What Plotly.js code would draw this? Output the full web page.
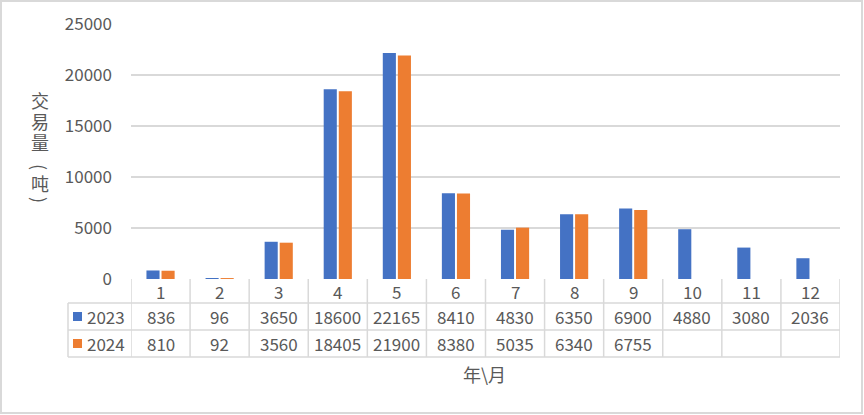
<!DOCTYPE html>
<html><head><meta charset="utf-8">
<script src="https://cdn.plot.ly/plotly-3.0.1.min.js"></script>
<style>html,body{margin:0;padding:0;background:#fff;}#chart{width:864px;height:415px;}</style>
</head><body><div id="chart"></div>
<script>
const months = ['1','2','3','4','5','6','7','8','9','10','11','12'];
const seriesNames = ['2023','2024'];
const values2023 = [836,96,3650,18600,22165,8410,4830,6350,6900,4880,3080,2036];
const values2024 = [810,92,3560,18405,21900,8380,5035,6340,6755,null,null,null];
const yTicks = [0,5000,10000,15000,20000,25000];
const yTitle = '交易量（吨）';
const xTitle = '年\\月';
const colors = ['#4472C4','#ED7D31'];

const W=864,H=415,L=131,R=24,T=24,B=136;
const pw=W-L-R, ph=H-T-B;
const fx=px=>(px-L)/pw, fy=py=>(H-B-py)/ph;
const txt='#595959', grid='#d9d9d9';
const FONT='"Noto Sans CJK SC", "Liberation Sans", sans-serif';

const traces=[
 {type:'bar',x:months,y:values2023,name:seriesNames[0],marker:{color:colors[0]},hoverinfo:'none'},
 {type:'bar',x:months,y:values2024,name:seriesNames[1],marker:{color:colors[1]},hoverinfo:'none'}
];

const shapes=[];
const ann=[];
const lw=1.5;
shapes.push({type:'rect',xref:'paper',yref:'paper',x0:fx(1),x1:fx(862),y0:fy(1),y1:fy(413),line:{color:grid,width:2}});
[303,330,357].forEach(py=>shapes.push({type:'line',xref:'paper',yref:'paper',x0:fx(68),x1:1,y0:fy(py),y1:fy(py),line:{color:grid,width:lw}}));
for(let i=0;i<=months.length;i++){
  shapes.push({type:'line',xref:'x',yref:'paper',x0:i-0.5,x1:i-0.5,y0:0,y1:fy(357),line:{color:grid,width:lw}});
}
shapes.push({type:'line',xref:'paper',yref:'paper',x0:fx(68),x1:fx(68),y0:fy(303),y1:fy(357),line:{color:grid,width:lw}});
shapes.push({type:'rect',xref:'paper',yref:'paper',x0:fx(73),x1:fx(82),y0:fy(312),y1:fy(321),fillcolor:colors[0],line:{width:0}});
shapes.push({type:'rect',xref:'paper',yref:'paper',x0:fx(73),x1:fx(82),y0:fy(339),y1:fy(348),fillcolor:colors[1],line:{width:0}});

const cellFont={family:FONT,size:17,color:txt};
months.forEach((m,i)=>{
  ann.push({xref:'x',yref:'paper',x:i,y:fy(291),text:m,showarrow:false,xanchor:'center',yanchor:'middle',font:cellFont});
  ann.push({xref:'x',yref:'paper',x:i,y:fy(316.5),text:String(values2023[i]),showarrow:false,xanchor:'center',yanchor:'middle',font:cellFont});
  if(values2024[i]!==null) ann.push({xref:'x',yref:'paper',x:i,y:fy(343.5),text:String(values2024[i]),showarrow:false,xanchor:'center',yanchor:'middle',font:cellFont});
});
ann.push({xref:'paper',yref:'paper',x:fx(85),y:fy(316.5),text:seriesNames[0],showarrow:false,xanchor:'left',yanchor:'middle',font:cellFont});
ann.push({xref:'paper',yref:'paper',x:fx(85),y:fy(343.5),text:seriesNames[1],showarrow:false,xanchor:'left',yanchor:'middle',font:cellFont});
ann.push({xref:'paper',yref:'paper',x:fx(484),y:fy(374),text:xTitle,showarrow:false,xanchor:'center',yanchor:'middle',font:{family:FONT,size:18,color:txt}});
const yChars=Array.from(yTitle).map(c=>c==='（'?'(':(c==='）'?')':c));
const yPos=[100,121,142,167,183,200];
yChars.forEach((c,i)=>{
  const isBr=(c==='('||c===')');
  ann.push({xref:'paper',yref:'paper',x:fx(40),y:fy(yPos[i]),text:c,showarrow:false,xanchor:'center',yanchor:'middle',textangle:isBr?90:0,font:{family:FONT,size:18,color:txt}});
});

const layout={
  width:W,height:H,margin:{l:L,r:R,t:T,b:B,pad:0},
  paper_bgcolor:'#fff',plot_bgcolor:'#fff',
  barmode:'group',bargap:0.49,bargroupgap:0.13,showlegend:false,
  font:{family:FONT,color:txt,size:17},
  xaxis:{type:'category',categoryarray:months,showticklabels:false,showgrid:false,zeroline:false,showline:false,ticks:'',range:[-0.5,11.5]},
  yaxis:{range:[0,25000],tickvals:yTicks,ticktext:yTicks.map(String),showgrid:true,gridcolor:grid,gridwidth:1.5,zeroline:false,showline:false,ticks:'',ticklabelstandoff:18,tickfont:{family:FONT,size:17,color:txt}},
  shapes:shapes,annotations:ann
};
Plotly.newPlot('chart',traces,layout,{staticPlot:true,displayModeBar:false});
</script></body></html>
